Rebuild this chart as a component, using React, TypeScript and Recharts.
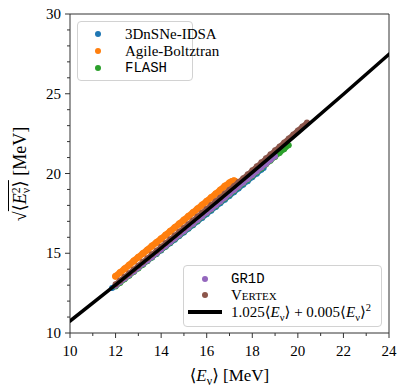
import React from "react";
import { ComposedChart, Scatter, XAxis, YAxis, ReferenceLine } from "recharts";

// mean energy <E> [MeV] vs rms energy sqrt(<E^2>) [MeV]
const idsaE = [11.85, 12.0, 12.2, 12.4, 12.6, 12.8, 13.0, 13.2, 13.4, 13.6, 13.8, 14.0, 14.2, 14.4, 14.6, 14.8, 15.0, 15.2, 15.4, 15.6, 15.8, 16.0, 16.2, 16.4, 16.6, 16.8, 17.0, 17.2, 17.4, 17.6, 17.8, 18.0, 18.2, 18.4, 18.5];
const idsaRms = [12.82, 12.98, 13.2, 13.42, 13.64, 13.86, 14.08, 14.3, 14.52, 14.74, 14.96, 15.18, 15.4, 15.63, 15.85, 16.08, 16.3, 16.53, 16.76, 16.99, 17.21, 17.44, 17.67, 17.9, 18.13, 18.36, 18.59, 18.82, 19.06, 19.29, 19.52, 19.76, 19.99, 20.23, 20.35];

const agileE = [12.0, 12.2, 12.4, 12.6, 12.8, 13.0, 13.2, 13.4, 13.6, 13.8, 14.0, 14.2, 14.4, 14.6, 14.8, 15.0, 15.2, 15.4, 15.6, 15.8, 16.0, 16.2, 16.4, 16.6, 16.8, 17.0, 17.1, 17.2, 17.25];
const agileRms = [13.56, 13.79, 14.03, 14.26, 14.52, 14.75, 14.98, 15.21, 15.45, 15.68, 15.91, 16.14, 16.38, 16.61, 16.85, 17.08, 17.32, 17.55, 17.79, 18.02, 18.26, 18.5, 18.73, 18.97, 19.21, 19.42, 19.5, 19.55, 19.5];

const flashE = [12.0, 12.2, 12.4, 12.6, 12.8, 13.0, 13.2, 13.4, 13.6, 13.8, 14.0, 14.2, 14.4, 14.6, 14.8, 15.0, 15.2, 15.4, 15.6, 15.8, 16.0, 16.2, 16.4, 16.6, 16.8, 17.0, 17.2, 17.4, 17.6, 17.8, 18.0, 18.2, 18.4, 18.6, 18.8, 19.0, 19.2, 19.4, 19.6];
const flashRms = [12.92, 13.14, 13.37, 13.59, 13.82, 14.05, 14.28, 14.51, 14.74, 14.97, 15.2, 15.43, 15.66, 15.89, 16.12, 16.35, 16.58, 16.81, 17.04, 17.28, 17.51, 17.74, 17.97, 18.21, 18.44, 18.67, 18.91, 19.14, 19.38, 19.61, 19.85, 20.08, 20.32, 20.56, 20.8, 21.04, 21.28, 21.52, 21.77];

const gr1dE = [12.0, 12.2, 12.4, 12.6, 12.8, 13.0, 13.2, 13.4, 13.6, 13.8, 14.0, 14.2, 14.4, 14.6, 14.8, 15.0, 15.2, 15.4, 15.6, 15.8, 16.0, 16.2, 16.4, 16.6, 16.8, 17.0, 17.2, 17.4, 17.6, 17.8, 18.0, 18.2, 18.4, 18.6, 18.8, 19.0];
const gr1dRms = [12.96, 13.19, 13.41, 13.64, 13.86, 14.09, 14.32, 14.55, 14.77, 15.0, 15.23, 15.46, 15.69, 15.92, 16.15, 16.38, 16.61, 16.84, 17.08, 17.31, 17.54, 17.77, 18.01, 18.24, 18.48, 18.71, 18.95, 19.18, 19.42, 19.65, 19.89, 20.13, 20.37, 20.6, 20.84, 21.08];

const vertexE = [12.0, 12.2, 12.4, 12.6, 12.8, 13.0, 13.2, 13.4, 13.6, 13.8, 14.0, 14.2, 14.4, 14.6, 14.8, 15.0, 15.2, 15.4, 15.6, 15.8, 16.0, 16.2, 16.4, 16.6, 16.8, 17.0, 17.2, 17.4, 17.6, 17.8, 18.0, 18.2, 18.4, 18.6, 18.8, 19.0, 19.2, 19.4, 19.6, 19.8, 20.0, 20.2, 20.4];
const vertexRms = [13.06, 13.29, 13.52, 13.75, 13.98, 14.22, 14.46, 14.69, 14.93, 15.16, 15.4, 15.64, 15.87, 16.11, 16.35, 16.59, 16.82, 17.06, 17.3, 17.54, 17.78, 18.02, 18.26, 18.5, 18.74, 18.98, 19.22, 19.47, 19.71, 19.95, 20.2, 20.45, 20.7, 20.95, 21.2, 21.45, 21.7, 21.95, 22.2, 22.45, 22.7, 22.95, 23.19];

// fit 1.025<E> + 0.005<E>^2
const fitE = [10, 12, 14, 16, 18, 20, 22, 24];
const fitRms = [10.75, 13.02, 15.33, 17.68, 20.07, 22.5, 24.97, 27.48];

const xTicks = [10, 11, 12, 13, 14, 15, 16, 17, 18, 19, 20, 21, 22, 23, 24];
const yTicks = [10, 11, 12, 13, 14, 15, 16, 17, 18, 19, 20, 21, 22, 23, 24, 25, 26, 27, 28, 29, 30];

const C = {
  blue: "#1f77b4",
  orange: "#ff7f0e",
  green: "#2ca02c",
  purple: "#9467bd",
  brown: "#8c564b",
};

const SERIF = '"Liberation Serif", "DejaVu Serif", serif';
const MONO = '"Liberation Mono", "DejaVu Sans Mono", monospace';
const AX = "#333";

const zip = (xs: number[], ys: number[]) => xs.map((x, i) => ({ x, y: ys[i] }));

const dot = (color: string, r: number) => (p: any) => <circle cx={p.cx} cy={p.cy} r={r} fill={color} />;
const noDot = () => <g />;

const band = (color: string, w: number) =>
  ({ stroke: color, strokeWidth: w, strokeLinecap: "round", strokeLinejoin: "round" } as any);

const XTick = ({ x, y, payload }: any) => {
  const major = payload.value % 2 === 0;
  return (
    <g>
      <line x1={x} y1={y} x2={x} y2={y + (major ? 5 : 3)} stroke={AX} strokeWidth={1} />
      {major && (
        <text x={x} y={y + 23} textAnchor="middle" fill="#000" fontSize={15} fontFamily={SERIF}>
          {payload.value}
        </text>
      )}
    </g>
  );
};

const YTick = ({ x, y, payload }: any) => {
  const major = payload.value % 5 === 0;
  return (
    <g>
      <line x1={x} y1={y} x2={x - (major ? 5 : 3)} y2={y} stroke={AX} strokeWidth={1} />
      {major && (
        <text x={x - 9} y={y + 5} textAnchor="end" fill="#000" fontSize={15} fontFamily={SERIF}>
          {payload.value}
        </text>
      )}
    </g>
  );
};

const Ev = () => (
  <>
    ⟨<i>E</i>
    <sub style={{ fontSize: "0.7em" }}>ν</sub>⟩
  </>
);

const legendBox: React.CSSProperties = {
  position: "absolute",
  border: "1px solid #d2d2d2",
  borderRadius: 4,
  background: "rgba(255,255,255,0.85)",
  boxSizing: "border-box",
};

const rowStyle = (top: number): React.CSSProperties => ({
  position: "absolute",
  top: top - 9,
  height: 18,
  left: 0,
  right: 0,
  display: "flex",
  alignItems: "center",
  whiteSpace: "nowrap",
});

const LegendDot = ({ color, left }: { color: string; left: number }) => (
  <span style={{ position: "absolute", left: left - 3, width: 6, height: 6, borderRadius: 3, background: color }} />
);

export default function App() {
  return (
    <div style={{ position: "absolute", left: 0, top: 0, width: 407, height: 387, background: "#fff", fontFamily: SERIF }}>
      <ComposedChart width={407} height={387} margin={{ top: 14, right: 18, left: 0, bottom: 0 }}>
        <XAxis
          type="number"
          dataKey="x"
          domain={[10, 24]}
          ticks={xTicks}
          interval={0}
          tickSize={0}
          tickMargin={0}
          tickLine={false}
          tick={<XTick />}
          axisLine={{ stroke: AX }}
          height={54}
          allowDataOverflow
        />
        <YAxis
          type="number"
          dataKey="y"
          domain={[10, 30]}
          ticks={yTicks}
          interval={0}
          tickSize={0}
          tickMargin={0}
          tickLine={false}
          tick={<YTick />}
          axisLine={{ stroke: AX }}
          width={70}
          allowDataOverflow
        />
        <ReferenceLine y={30} stroke={AX} />
        <ReferenceLine x={24} stroke={AX} />
        <Scatter name="3DnSNe-IDSA" data={zip(idsaE, idsaRms)} dataKey="y" fill={C.blue} shape={dot(C.blue, 3)} line={band(C.blue, 5)} isAnimationActive={false} />
        <Scatter name="Agile-Boltztran" data={zip(agileE, agileRms)} dataKey="y" fill={C.orange} shape={dot(C.orange, 3.5)} line={band(C.orange, 6.5)} isAnimationActive={false} />
        <Scatter name="FLASH" data={zip(flashE, flashRms)} dataKey="y" fill={C.green} shape={dot(C.green, 3)} line={band(C.green, 5)} isAnimationActive={false} />
        <Scatter name="GR1D" data={zip(gr1dE, gr1dRms)} dataKey="y" fill={C.purple} shape={dot(C.purple, 3)} line={band(C.purple, 5)} isAnimationActive={false} />
        <Scatter name="Vertex" data={zip(vertexE, vertexRms)} dataKey="y" fill={C.brown} shape={dot(C.brown, 3)} line={band(C.brown, 5)} isAnimationActive={false} />
        <Scatter name="fit" data={zip(fitE, fitRms)} dataKey="y" fill="#000" shape={noDot} line={band("#000", 3.5)} isAnimationActive={false} />
      </ComposedChart>

      {/* axis labels */}
      <div style={{ position: "absolute", left: 0, width: 459, top: 366, textAlign: "center", fontSize: 17, lineHeight: "20px" }}>
        <Ev /> [MeV]
      </div>
      <div
        style={{
          position: "absolute",
          left: 20,
          top: 174,
          transform: "translate(-50%, -50%) rotate(-90deg)",
          fontSize: 18,
          whiteSpace: "nowrap",
          lineHeight: "24px",
        }}
      >
        √<span style={{ borderTop: "1px solid #000", paddingTop: 1 }}>
          ⟨<i>E</i>
          <span style={{ display: "inline-flex", flexDirection: "column", verticalAlign: "middle", fontSize: "0.65em", lineHeight: "10px" }}>
            <span>2</span>
            <span>ν</span>
          </span>⟩
        </span>{" "}
        [MeV]
      </div>

      {/* upper legend */}
      <div style={{ ...legendBox, left: 77, top: 21, width: 116, height: 60, fontSize: 15 }}>
        <div style={rowStyle(12)}>
          <LegendDot color={C.blue} left={20} />
          <span style={{ position: "absolute", left: 47 }}>3DnSNe-IDSA</span>
        </div>
        <div style={rowStyle(29)}>
          <LegendDot color={C.orange} left={20} />
          <span style={{ position: "absolute", left: 47 }}>Agile-Boltztran</span>
        </div>
        <div style={rowStyle(46)}>
          <LegendDot color={C.green} left={20} />
          <span style={{ position: "absolute", left: 47, fontFamily: MONO, fontSize: 14 }}>FLASH</span>
        </div>
      </div>

      {/* lower legend */}
      <div style={{ ...legendBox, left: 183, top: 265, width: 199, height: 62, fontSize: 15 }}>
        <div style={rowStyle(13)}>
          <LegendDot color={C.purple} left={21} />
          <span style={{ position: "absolute", left: 47, fontFamily: MONO, fontSize: 14 }}>GR1D</span>
        </div>
        <div style={rowStyle(29)}>
          <LegendDot color={C.brown} left={21} />
          <span style={{ position: "absolute", left: 47, fontVariant: "small-caps" }}>Vertex</span>
        </div>
        <div style={rowStyle(46)}>
          <span style={{ position: "absolute", left: 4, width: 34, height: 4, top: 7, background: "#000" }} />
          <span style={{ position: "absolute", left: 47 }}>
            1.025<Ev /> + 0.005<Ev />
            <sup style={{ fontSize: "0.7em" }}>2</sup>
          </span>
        </div>
      </div>
    </div>
  );
}
